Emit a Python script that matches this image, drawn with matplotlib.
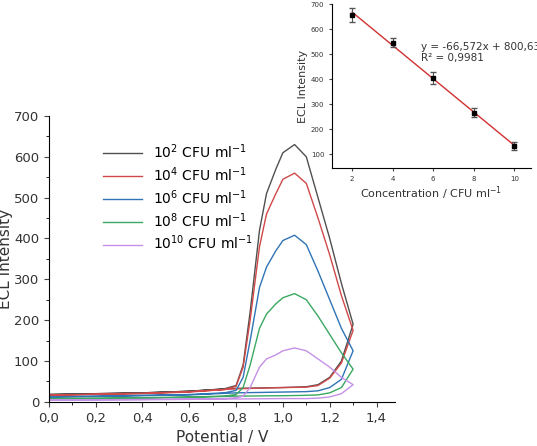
import matplotlib
matplotlib.use("Agg")
import matplotlib.pyplot as plt
import numpy as np

labels = ["10$^{2}$ CFU ml$^{-1}$", "10$^{4}$ CFU ml$^{-1}$", "10$^{6}$ CFU ml$^{-1}$",
          "10$^{8}$ CFU ml$^{-1}$", "10$^{10}$ CFU ml$^{-1}$"]
colors = ["#505050", "#d04848", "#2f74b5", "#3aa860", "#c590e6"]

# upper (peak) branch
x_up = [0, 0.2, 0.4, 0.6, 0.75, 0.8, 0.83, 0.86, 0.9, 0.93, 0.97, 1.0, 1.05, 1.1, 1.15, 1.2, 1.25, 1.3]
y_up = [
    [18, 20, 22, 26, 32, 40, 90, 220, 420, 510, 570, 610, 630, 600, 500, 400, 290, 190],
    [16, 18, 20, 24, 30, 38, 85, 200, 380, 460, 510, 545, 560, 535, 450, 360, 260, 175],
    [12, 14, 16, 18, 22, 28, 60, 150, 280, 330, 370, 395, 408, 385, 320, 250, 180, 125],
    [8, 9, 10, 12, 14, 18, 35, 90, 180, 215, 240, 255, 265, 250, 210, 165, 120, 80],
    [4, 5, 6, 7, 8, 10, 14, 35, 85, 105, 115, 125, 132, 125, 105, 85, 60, 42],
]
# lower (return) branch
x_down = [1.3, 1.25, 1.2, 1.15, 1.1, 1.0, 0.8, 0.6, 0.4, 0.2, 0]
y_down = [
    [190, 100, 60, 42, 37, 35, 33, 26, 22, 20, 18],
    [175, 95, 58, 40, 36, 35, 32, 25, 21, 19, 16],
    [125, 55, 35, 27, 25, 24, 22, 17, 15, 13, 12],
    [80, 35, 22, 17, 16, 15, 14, 11, 9, 8, 8],
    [42, 20, 12, 9, 8, 8, 7, 6, 5, 5, 4],
]

conc = [2, 4, 6, 8, 10]
intensity = [657, 546, 405, 265, 133]
err = [28, 18, 25, 18, 15]

fig = plt.figure(figsize=(5.37, 4.46), dpi=100)
ax = fig.add_axes([0.091, 0.099, 0.645, 0.641])
for i in range(5):
    ax.plot(x_up + x_down, y_up[i] + y_down[i], color=colors[i], lw=1.0, label=labels[i])
ax.set_xlim(0, 1.48)
ax.set_ylim(0, 700)
ax.set_xticks(np.arange(0, 1.41, 0.2))
ax.set_xticklabels([f"{v:.1f}".replace(".", ",") for v in np.arange(0, 1.41, 0.2)])
ax.set_yticks(range(0, 701, 100))
ax.set_yticks(range(50, 700, 100), minor=True)
ax.set_xticks(np.arange(0.1, 1.41, 0.2), minor=True)
ax.spines["top"].set_visible(False)
ax.spines["right"].set_visible(False)
ax.tick_params(labelsize=9.5, color="#444444", labelcolor="#333333")
ax.set_xlabel("Potential / V", fontsize=11, color="#333333")
ax.set_ylabel("ECL Intensity", fontsize=11, color="#333333", labelpad=1)
ax.legend(loc="upper left", bbox_to_anchor=(0.12, 0.95), frameon=False, fontsize=10,
          handlelength=2.8, labelspacing=0.3)

ins = fig.add_axes([0.618, 0.623, 0.37, 0.368])
ins.plot([2, 10], [-66.572 * 2 + 800.63, -66.572 * 10 + 800.63], color="#d03030", lw=1)
ins.errorbar(conc, intensity, yerr=err, fmt="s", color="black", ms=3.5, ecolor="#555555",
             elinewidth=0.8, capsize=2)
ins.set_xlim(1, 10.8)
ins.set_ylim(44, 700)
ins.set_xticks(conc)
ins.set_yticks(range(100, 701, 100))
ins.spines["top"].set_visible(False)
ins.spines["right"].set_visible(False)
ins.tick_params(labelsize=5, color="#444444", labelcolor="#333333", length=2)
ins.set_xlabel("Concentration / CFU ml$^{-1}$", fontsize=8, color="#333333", labelpad=2)
ins.set_ylabel("ECL Intensity", fontsize=8, color="#333333", labelpad=2)
ins.text(0.45, 0.77, "y = -66,572x + 800,63\nR² = 0,9981", transform=ins.transAxes,
         fontsize=7.5, color="#333333", va="top")

fig.savefig("out.png", dpi=100)
